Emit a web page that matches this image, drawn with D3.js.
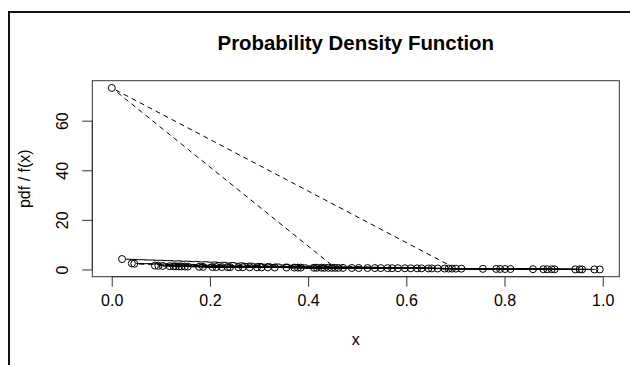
<!DOCTYPE html>
<html><head><meta charset="utf-8">
<script src="https://cdn.jsdelivr.net/npm/d3@7"></script>
<style>body{margin:0;background:#fff}svg{display:block}text{font-family:"Liberation Sans",Arial,sans-serif;fill:#000}</style>
</head><body><svg id="c" width="630" height="365"></svg>
<script>
// data in plotting order (type = "b", dashed)
const xValues = [0.305,0.142,0.609,0.021,0.521,0.236,0.783,0.118,0.441,0.664,0.186,0.953,0.372,0.041,0.652,0.267,0.095,0.548,0.801,0.412,0.131,0.455,0.0002,0.701,0.258,0.887,0.562,0.155,0.332,0.046,0.583,0.213,0.678,0.418,0.126,0.944,0.489,0.296,0.756,0.104,0.631,0.385,0.178,0.858,0.536,0.224,0.994,0.462,0.149,0.693,0.318,0.896,0.241,0.571,0.088,0.427,0.812,0.205,0.645,0.356,0.958,0.137,0.503,0.281,0.712,0.433,0.879,0.597,0.379,0.983,0.448,0.622,0.791,0.471,0.902,0.686];
const yValues = [0.84,1.21,0.47,4.2,0.58,0.94,0.21,1.33,0.67,0.39,1.05,0.035,0.76,2.45,0.41,0.89,1.5,0.55,0.18,0.71,1.26,0.65,73.2,0.34,0.9,0.09,0.53,1.15,0.8,2.3,0.5,0.98,0.37,0.7,1.29,0.04,0.61,0.85,0.25,1.42,0.44,0.74,1.07,0.12,0.56,0.96,0.01,0.64,1.18,0.35,0.82,0.08,0.93,0.52,1.55,0.69,0.17,1.0,0.42,0.77,0.03,1.23,0.6,0.87,0.32,0.68,0.1,0.49,0.75,0.015,0.66,0.45,0.2,0.63,0.07,0.36];
const xTicks = [0.0,0.2,0.4,0.6,0.8,1.0];
const yTicks = [0,20,40,60];
const title = "Probability Density Function";
const xLabel = "x";
const yLabel = "pdf / f(x)";

const svg = d3.select("#c");
const L=92.3,R=619.3,T=80.7,B=276.7;
function pad(ext){const w=ext[1]-ext[0];return [ext[0]-0.04*w,ext[1]+0.04*w];}
const x = d3.scaleLinear().domain(pad(d3.extent(xValues))).range([L,R]);
const y = d3.scaleLinear().domain(pad(d3.extent(yValues))).range([B,T]);

// outer frame (screenshot border)
svg.append("rect").attr("x",9).attr("y",12).attr("width",700).attr("height",500)
  .attr("fill","none").attr("stroke","#111").attr("stroke-width",2);

// box
svg.append("rect").attr("x",L).attr("y",T).attr("width",R-L).attr("height",B-T)
  .attr("fill","none").attr("stroke","#333").attr("stroke-width",1);

// x axis
const xa = svg.append("g").attr("transform",`translate(0,${B})`)
  .call(d3.axisBottom(x).tickValues(xTicks).tickFormat(d3.format(".1f")).tickSize(10).tickPadding(8));
xa.select(".domain").attr("d",`M${x(xTicks[0])},0H${x(xTicks[xTicks.length-1])}`).attr("stroke","#333");
xa.selectAll(".tick line").attr("stroke","#333");
xa.selectAll("text").attr("font-size",16).attr("font-family","Liberation Sans, Arial, sans-serif").attr("dy","0.71em");

// y axis
const ya = svg.append("g").attr("transform",`translate(${L},0)`)
  .call(d3.axisLeft(y).tickValues(yTicks).tickFormat(d3.format("d")).tickSize(10));
ya.select(".domain").attr("d",`M0,${y(yTicks[0])}V${y(yTicks[yTicks.length-1])}`).attr("stroke","#333");
ya.selectAll(".tick line").attr("stroke","#333");
ya.selectAll("text").attr("font-size",16).attr("font-family","Liberation Sans, Arial, sans-serif")
  .attr("text-anchor","middle").attr("x",0).attr("dy",0)
  .attr("transform","translate(-24,0) rotate(-90)");

// title and labels
svg.append("text").attr("x",(L+R)/2).attr("y",50).attr("text-anchor","middle")
  .attr("font-size",20.4).attr("font-weight","bold").text(title);
svg.append("text").attr("x",(L+R)/2).attr("y",345).attr("text-anchor","middle")
  .attr("font-size",16).text(xLabel);
svg.append("text").attr("transform",`translate(30,${(T+B)/2}) rotate(-90)`).attr("text-anchor","middle")
  .attr("font-size",16).text(yLabel);

// type "b": segments with gaps around points
const pts = xValues.map((v,i)=>[x(v),y(yValues[i])]);
const gap = 4.5;
const segs = [];
for(let i=0;i<pts.length-1;i++){
  const [x0,y0]=pts[i],[x1,y1]=pts[i+1];
  const dx=x1-x0,dy=y1-y0,d=Math.hypot(dx,dy);
  if(d>2*gap){const ux=dx/d,uy=dy/d;segs.push([x0+ux*gap,y0+uy*gap,x1-ux*gap,y1-uy*gap]);}
}
svg.append("g").selectAll("line").data(segs).join("line")
  .attr("x1",d=>d[0]).attr("y1",d=>d[1]).attr("x2",d=>d[2]).attr("y2",d=>d[3])
  .attr("stroke","#000").attr("stroke-width",1).attr("stroke-dasharray","5,4");
svg.append("g").selectAll("circle").data(pts).join("circle")
  .attr("cx",d=>d[0]).attr("cy",d=>d[1]).attr("r",3.5)
  .attr("fill","none").attr("stroke","#000").attr("stroke-width",1);
</script></body></html>
